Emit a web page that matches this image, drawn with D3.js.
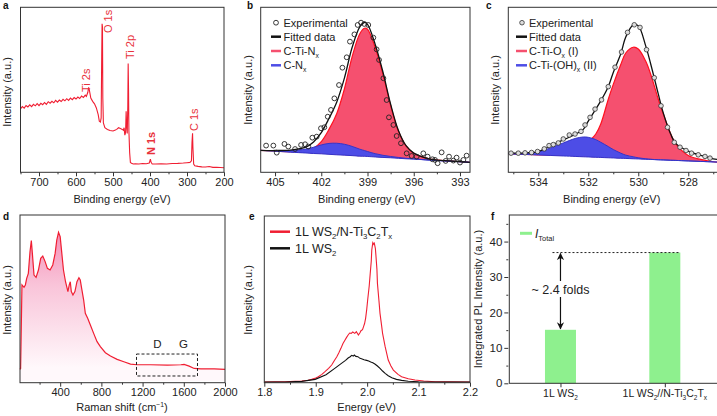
<!DOCTYPE html>
<html><head><meta charset="utf-8">
<script src="https://cdn.jsdelivr.net/npm/d3@7"></script>
<style>
body{margin:0;background:#fff}
svg{display:block;font-family:"Liberation Sans",Arial,sans-serif}
</style></head><body>
<svg id="chart" width="717" height="416"></svg>
<script>
// ---------- Panel a: XPS survey ----------
const surveyE = [750,745,740,735,730,725,720,715,710,705,700,695,690,685,680,675,670,665,660,655,650,645,640,635,630,625,620,615,610,605,600,595,590,585,580,575,572,568,566,564,560,555,550,545,540,537,534,532,530.5,529.5,528.5,527.5,526,522,515,508,500,495,490,485,480,475,472,470,468,466,464.5,463,461.5,460,459,458,457,455,453,450,445,440,430,420,410,402,399,397,394,385,370,355,340,325,310,300,292,288,286.5,285,284,282,279,270,260,250,240,230,220,210,200];
const surveyI = [38.5,39.8,38.9,40.5,39.6,40.9,39.8,41.2,40.3,41.6,40.4,41.8,41.0,42.3,41.2,42.8,41.9,43.0,42.1,43.6,42.5,43.8,42.9,44.2,43.3,44.6,43.6,45.0,44.0,45.3,44.4,45.6,44.7,46.2,45.4,46.8,46.0,48.5,51.5,50.0,45.0,43.0,41.5,39.0,35.0,31.0,30.5,33.0,70,90.0,88,45,30.0,27.0,26.0,25.3,25.0,25.5,26.0,27.0,26.5,26.0,25.5,27,22.5,24,37.0,28,23.5,40,66.0,50,25.0,12.0,6.0,5.5,5.0,5.2,5.0,5.3,5.2,5.6,8.0,6.0,5.0,5.0,5.2,5.0,5.3,5.4,5.6,5.8,6.0,7.0,18,23.6,15,5.0,4.0,3.6,3.3,3.2,3.5,3.0,3.0,2.9,2.8];
const surveyTicks = [700,600,500,400,300,200];
const surveyMinor = [750,650,550,450,350,250];
const surveyPeaks = ["Ti 2s","O 1s","Ti 2p","N 1s","C 1s"];

// ---------- Panel b: N 1s ----------
const bExpE = [405.58,405.11,404.89,404.39,404.14,403.70,403.31,403.05,402.84,402.58,402.30,402.02,401.80,401.58,401.37,401.15,400.85,400.63,400.35,400.14,399.85,399.64,399.42,399.21,398.95,398.62,398.41,398.25,397.97,397.76,397.61,397.32,397.11,396.83,396.46,396.14,395.81,395.38,395.10,394.79,394.62,394.45,394.19,393.93,393.71,393.43,393.22,393.00,392.78,392.57];
const bExpI = [16.2,16.2,11.9,17.2,15.6,14.1,16.6,17.0,15.6,21.0,21.6,26.7,27.3,33.7,37.8,44.8,52.9,63.4,69.7,79.2,83.6,89.3,90.7,89.9,89.3,81.6,74.5,68.1,57.0,43.8,33.3,28.7,22.0,17.6,11.5,9.9,9.5,11.5,9.5,7.9,7.5,5.5,12.1,6.9,9.5,7.1,8.9,5.9,7.5,10.1];
const bE    = [406,405,404,403,402.5,402,401.5,401,400.5,400,399.5,399.2,399,398.5,398,397.5,397,396.5,396,395,394,393,392.3];
const bBase = [13.3,12.8,12.2,11.7,11.4,11.2,10.9,10.6,10.4,10.1,9.8,9.7,9.6,9.3,9.0,8.8,8.5,8.2,8.0,7.4,6.9,6.4,6.0];
const bCN   = [13.3,13.1,13.2,14.1,15.2,16.6,17.5,17.6,17.0,15.7,14.0,13.2,12.6,11.3,10.3,9.6,9.0,8.5,8.15,7.4,6.9,6.4,6.0];
const bCTiN = [13.3,12.9,12.5,12.9,14.6,18.6,26.0,35.5,50.5,70.0,84.0,87.3,86.7,75.5,59.5,40.5,25.0,16.0,11.5,8.2,7.1,6.5,6.0];
const bFit  = [13.3,13.2,13.5,15.3,18.4,24.0,32.6,42.5,57.1,75.6,88.2,90.8,89.7,77.5,60.8,41.3,25.5,16.1,11.65,8.2,7.1,6.5,6.0];
const bTicks = [405,402,399,396,393];
const bMinor = [403.5,400.5,397.5,394.5];

// ---------- Panel c: O 1s ----------
const cExpE = [535.09,534.80,534.53,534.27,534.03,533.76,533.57,533.40,533.20,533.00,532.76,532.53,532.29,532.13,531.93,531.73,531.47,531.20,530.93,530.67,530.43,530.16,529.93,529.67,529.36,529.09,528.83,528.56,528.33,528.09,527.87,527.60,527.33,527.13];
const cExpI = [11.6,11.6,11.8,12.0,12.6,14.2,16.2,16.8,17.8,20.2,22.6,23.2,24.8,28.7,33.3,38.3,43.9,51.9,63.7,72.9,84.8,89.4,87.8,74.3,57.3,40.3,27.3,18.2,15.2,13.2,11.6,10.6,9.6,8.6];
const cE    = [535.2,535,534.5,534,533.5,533,532.5,532.2,532,531.7,531.5,531.2,531,530.7,530.5,530.2,530,529.7,529.5,529.2,529,528.7,528.5,528,527.5,527,526.85];
const cBase = [11.3,11.1,10.8,10.5,10.2,9.9,9.6,9.4,9.3,9.1,9.0,8.8,8.7,8.5,8.4,8.2,8.1,7.9,7.8,7.6,7.5,7.3,7.2,6.9,6.6,6.3,6.2];
const cOH   = [11.3,11.2,11.2,12.4,14.8,17.8,20.6,21.4,21.2,19.8,18.2,15.6,13.8,11.6,10.4,9.4,8.8,8.2,7.9,7.6,7.5,7.3,7.2,6.9,6.6,6.3,6.2];
const cOx   = [11.3,11.1,10.8,10.6,10.6,11.0,12.6,14.6,18.2,23.2,29.3,44.3,53.3,65.3,72.3,75.8,74.7,67.3,59.3,44.3,35.3,23.2,17.2,10.2,7.8,6.4,6.2];
const cFit  = [11.6,11.6,11.8,12.6,16.0,19.6,23.2,26.0,31.0,38.3,43.3,51.9,60.5,71.8,82.0,89.4,88.8,76.5,65.5,47.5,36.0,23.0,17.5,12.8,10.2,8.2,7.8];
const cTicks = [534,532,530,528];
const cMinor = [535,533,531,529,527];

// ---------- Panel d: Raman ----------
const ramanX = [10,16,29,49,62,75,91,107,120,130,146,166,189,211,231,254,276,302,328,351,367,384,400,416,432,452,475,488,498,508,524,543,563,582,595,611,628,644,667,693,725,758,790,839,888,953,1018,1083,1148,1278,1441,1571,1603,1652,1701,1766,1896,2000];
const ramanI = [8.0,8.5,58.3,56.9,58.3,62.2,65.2,78.1,84.7,77.1,64.2,62.8,67.2,74.2,75.5,72.2,68.2,67.2,70.2,77.1,85.1,89.7,87.1,77.1,67.2,60.2,54.3,58.3,60.2,54.3,52.3,54.3,60.2,62.6,61.2,55.3,49.3,41.4,38.4,34.4,29.4,24.5,21.5,17.9,15.9,13.9,12.5,11.1,10.7,10.7,10.5,10.7,10.9,9.9,8.5,8.2,8.2,8.0];
const ramanTicks = [400,800,1200,1600,2000];
const ramanMinor = [200,600,1000,1400,1800];
const ramanBox = [1141,1733,4.0,17.1];
const ramanBands = ["D","G"];
const ramanBandX = [1343,1597];

// ---------- Panel e: PL spectra ----------
const eRedX = [1.800,1.820,1.840,1.860,1.873,1.885,1.892,1.900,1.905,1.912,1.918,1.925,1.931,1.936,1.941,1.945,1.949,1.953,1.957,1.960,1.963,1.966,1.969,1.972,1.976,1.979,1.983,1.986,1.988,1.991,1.993,1.995,1.997,1.999,2.001,2.004,2.006,2.008,2.009,2.011,2.013,2.014,2.016,2.017,2.019,2.020,2.023,2.025,2.028,2.030,2.035,2.041,2.046,2.051,2.060,2.067,2.080,2.093,2.110,2.132,2.160,2.200];
const eRedI = [0.4,0.6,0.6,0.8,1.0,1.5,2.0,2.8,3.6,5.0,6.6,8.6,10.6,13.2,15.6,18.0,20.6,23.5,25.6,27.2,28.6,29.8,29.6,30.4,29.6,30.6,28.6,30.0,31.2,31.8,33.6,35.5,38.6,43.5,49.6,58.0,65.6,73.0,79.6,84.0,83.0,83.6,80.5,76.6,68.0,59.6,49.0,41.6,34.5,29.6,21.6,13.6,10.2,7.6,5.0,3.6,2.4,1.6,1.0,0.6,0.5,0.4];
const eBlkX = [1.800,1.840,1.873,1.899,1.920,1.937,1.950,1.958,1.963,1.967,1.970,1.973,1.975,1.978,1.982,1.986,1.989,1.994,1.999,2.003,2.007,2.011,2.015,2.020,2.025,2.030,2.035,2.041,2.048,2.057,2.067,2.080,2.100,2.150,2.200];
const eBlkI = [0.4,0.4,0.8,2.0,4.8,8.6,11.6,13.4,14.8,15.6,16.4,16.0,16.6,15.8,15.6,14.6,14.4,13.8,13.4,13.0,12.4,12.0,11.2,10.0,8.6,7.0,5.6,4.2,3.0,2.0,1.4,0.9,0.6,0.4,0.4];
const eTicks = [1.8,1.9,2.0,2.1,2.2];
const eMinor = [1.85,1.95,2.05,2.15];

// ---------- Panel f: integrated PL ----------
const fCats = ["WS2","WS2/NTi3C2Tx"];
const fVals = [15.1,36.9];
const fTicks = [0,10,20,30,40];
const fMinor = [5,15,25,35,45];
const fFold = "~ 2.4 folds";

// ================= drawing =================
const svg = d3.select("#chart");
const RED = "#f01e32", PINK = "#f5506f", BLUE = "#4d4de6", BLUEL = "#3434c8";
const AX = "#333";
const TICKFS = 11;

function rich(sel, parts, size) {
  let shift = 0;
  parts.forEach(p => {
    const t = p[0], k = p[1] || "n";
    const target = (k === "sub" || k === "isub") ? 3 : (k === "sup" ? -4 : 0);
    const ts = sel.append("tspan").text(t);
    if (target - shift) ts.attr("dy", target - shift);
    shift = target;
    if (k === "sub" || k === "sup" || k === "isub") ts.attr("font-size", size * 0.62);
    if (k === "i") ts.attr("font-style", "italic");
  });
  return sel;
}

function frame(x0, x1, y0, y1) {
  svg.append("rect").attr("x", x0).attr("y", y0).attr("width", x1 - x0).attr("height", y1 - y0)
    .attr("fill", "none").attr("stroke", AX).attr("stroke-width", 1);
}

function xAxis(x, yPix, majors, minors, fmt) {
  const g = svg.append("g").attr("transform", `translate(0,${yPix})`);
  g.call(d3.axisBottom(x).tickValues(majors).tickSize(4).tickPadding(2).tickFormat(fmt));
  const lo = Math.min(...x.range()) - 0.5, hi = Math.max(...x.range()) + 0.5;
  const g2 = svg.append("g").attr("transform", `translate(0,${yPix})`);
  g2.call(d3.axisBottom(x).tickValues(minors.filter(v => x(v) >= lo && x(v) <= hi)).tickSize(2).tickFormat(""));
  [g, g2].forEach(s => { s.select(".domain").remove(); s.selectAll("line").attr("stroke", AX);
    s.selectAll("text").attr("font-size", TICKFS).attr("fill", "#222").attr("font-family", "Liberation Sans, Arial, sans-serif"); });
}

function label(x, y, txt, rot) {
  const t = svg.append("text").attr("font-size", 11).attr("fill", "#222").attr("text-anchor", "middle");
  if (rot) t.attr("transform", `translate(${x},${y}) rotate(-90)`);
  else t.attr("x", x).attr("y", y);
  if (typeof txt === "string") t.text(txt); else rich(t, txt, 11);
  return t;
}

function letter(x, y, s) {
  svg.append("text").attr("x", x).attr("y", y).attr("font-size", 10).attr("font-weight", "bold").attr("fill", "#111").text(s);
}

// ----- a -----
(function () {
  const x = d3.scaleLinear().domain([750, 200]).range([20.5, 224]);
  const y = d3.scaleLinear().domain([0, 100]).range([172.3, 7.3]);
  const line = d3.line().x((d, i) => x(surveyE[i])).y(d => y(d));
  svg.append("path").attr("d", line(surveyI)).attr("fill", "none").attr("stroke", RED).attr("stroke-width", 1.1);
  frame(20.5, 224, 7.3, 172.3);
  xAxis(x, 172.3, surveyTicks, surveyMinor, d3.format("d"));
  label(122, 203, "Binding energy (eV)");
  label(11, 92, "Intensity (a.u.)", true);
  letter(3, 9, "a");
  const lx = [90, 112, 134, 154.5, 198];
  const ly = [92, 33, 59, 155, 131];
  surveyPeaks.forEach((p, i) => {
    svg.append("text").attr("transform", `translate(${lx[i]},${ly[i]}) rotate(-90)`)
      .attr("font-size", 11).attr("fill", "#e8323c").attr("font-weight", p === "N 1s" ? "bold" : "normal").text(p);
  });
})();

// ----- b -----
(function () {
  const x0 = 260.7, x1 = 470, y0 = 7.3, y1 = 172.3;
  const x = d3.scaleLinear().domain([405.93, 392.35]).range([x0, x1]);
  const y = d3.scaleLinear().domain([0, 100]).range([y1, y0]);
  svg.append("clipPath").attr("id", "clipb").append("rect").attr("x", x0).attr("y", y0).attr("width", x1 - x0).attr("height", y1 - y0);
  const g = svg.append("g").attr("clip-path", "url(#clipb)");
  const area = arr => d3.area().curve(d3.curveCatmullRom).x((d, i) => x(bE[i])).y0((d, i) => y(bBase[i])).y1(d => y(d))(arr);
  const ln = arr => d3.line().curve(d3.curveCatmullRom).x((d, i) => x(bE[i])).y(d => y(d))(arr);
  g.append("path").attr("d", area(bCTiN)).attr("fill", PINK);
  g.append("path").attr("d", ln(bCTiN)).attr("fill", "none").attr("stroke", "#ff1020").attr("stroke-width", 1.2);
  g.append("path").attr("d", area(bCN)).attr("fill", BLUE);
  g.append("path").attr("d", ln(bCN)).attr("fill", "none").attr("stroke", BLUEL).attr("stroke-width", 1);
  g.append("path").attr("d", ln(bBase)).attr("fill", "none").attr("stroke", BLUEL).attr("stroke-width", 1);
  g.append("path").attr("d", ln(bFit)).attr("fill", "none").attr("stroke", "#111").attr("stroke-width", 1.3);
  g.selectAll("circle.e").data(bExpI).enter().append("circle").attr("cx", (d, i) => x(bExpE[i])).attr("cy", d => y(d))
    .attr("r", 2.4).attr("fill", "none").attr("stroke", "#222").attr("stroke-width", 0.9);
  frame(x0, x1, y0, y1);
  xAxis(x, y1, bTicks, bMinor, d3.format("d"));
  label(366.7, 203, "Binding energy (eV)");
  label(252, 90, "Intensity (a.u.)", true);
  letter(247, 9, "b");
  svg.append("circle").attr("cx", 276).attr("cy", 22.7).attr("r", 2.4).attr("fill", "none").attr("stroke", "#222").attr("stroke-width", 0.9);
  const leg = [["#111", [["Fitted data"]]], ["#f5506f", [["C-Ti-N"], ["x", "sub"]]], [BLUE, [["C-N"], ["x", "sub"]]]];
  svg.append("text").attr("x", 283.5).attr("y", 26.5).attr("font-size", 11).attr("fill", "#222").text("Experimental");
  leg.forEach((l, i) => {
    const yy = 36.7 + i * 14.3;
    svg.append("line").attr("x1", 271).attr("x2", 281).attr("y1", yy).attr("y2", yy).attr("stroke", l[0]).attr("stroke-width", 2.5);
    rich(svg.append("text").attr("x", 283.5).attr("y", yy + 3.8).attr("font-size", 11).attr("fill", "#222"), l[1], 11);
  });
})();

// ----- c -----
(function () {
  const x0 = 508.3, x1 = 717, y0 = 7.3, y1 = 172.3;
  const x = d3.scaleLinear().domain([535.2, 526.85]).range([x0, x1]);
  const y = d3.scaleLinear().domain([0, 100]).range([y1, y0]);
  svg.append("clipPath").attr("id", "clipc").append("rect").attr("x", x0).attr("y", y0).attr("width", x1 - x0).attr("height", y1 - y0);
  const g = svg.append("g").attr("clip-path", "url(#clipc)");
  const area = arr => d3.area().curve(d3.curveCatmullRom).x((d, i) => x(cE[i])).y0((d, i) => y(cBase[i])).y1(d => y(d))(arr);
  const ln = arr => d3.line().curve(d3.curveCatmullRom).x((d, i) => x(cE[i])).y(d => y(d))(arr);
  g.append("path").attr("d", area(cOx)).attr("fill", PINK);
  g.append("path").attr("d", ln(cOx)).attr("fill", "none").attr("stroke", "#ff1020").attr("stroke-width", 1.2);
  g.append("path").attr("d", area(cOH)).attr("fill", BLUE);
  g.append("path").attr("d", ln(cOH)).attr("fill", "none").attr("stroke", BLUEL).attr("stroke-width", 1);
  g.append("path").attr("d", ln(cBase)).attr("fill", "none").attr("stroke", BLUEL).attr("stroke-width", 1);
  g.append("path").attr("d", ln(cFit)).attr("fill", "none").attr("stroke", "#111").attr("stroke-width", 1.3);
  g.selectAll("circle.e").data(cExpI).enter().append("circle").attr("cx", (d, i) => x(cExpE[i])).attr("cy", d => y(d))
    .attr("r", 2.3).attr("fill", "#ddd").attr("stroke", "#333").attr("stroke-width", 0.8);
  frame(x0, x1 + 2, y0, y1);
  xAxis(x, y1, cTicks, cMinor, d3.format("d"));
  label(611.7, 203, "Binding energy (eV)");
  label(499, 90, "Intensity (a.u.)", true);
  letter(486, 9, "c");
  svg.append("circle").attr("cx", 522).attr("cy", 22.7).attr("r", 2.3).attr("fill", "#ddd").attr("stroke", "#333").attr("stroke-width", 0.8);
  svg.append("text").attr("x", 529).attr("y", 26.5).attr("font-size", 11).attr("fill", "#222").text("Experimental");
  const leg = [["#111", [["Fitted data"]]], ["#f5506f", [["C-Ti-O"], ["x", "sub"], [" (I)"]]], [BLUE, [["C-Ti-(OH)"], ["x", "sub"], [" (II)"]]]];
  leg.forEach((l, i) => {
    const yy = 36.7 + i * 14.3;
    svg.append("line").attr("x1", 516).attr("x2", 527).attr("y1", yy).attr("y2", yy).attr("stroke", l[0]).attr("stroke-width", 2.5);
    rich(svg.append("text").attr("x", 529).attr("y", yy + 3.8).attr("font-size", 11).attr("fill", "#222"), l[1], 11);
  });
})();

// ----- d -----
(function () {
  const x0 = 20, x1 = 225, y0 = 215, y1 = 382.7;
  const x = d3.scaleLinear().domain([10, 2000]).range([x0, x1]);
  const y = d3.scaleLinear().domain([0, 100]).range([y1, y0]);
  const grad = svg.append("defs").append("linearGradient").attr("id", "gradd").attr("gradientUnits", "userSpaceOnUse")
    .attr("x1", 0).attr("x2", 0).attr("y1", y0 + 15).attr("y2", y1 - 15);
  grad.append("stop").attr("offset", "0%").attr("stop-color", "#f48db5");
  grad.append("stop").attr("offset", "40%").attr("stop-color", "#f9c4d9");
  grad.append("stop").attr("offset", "100%").attr("stop-color", "#fff8fb");
  const area = d3.area().x((d, i) => x(ramanX[i])).y0(y(0) - 2).y1(d => y(d));
  svg.append("path").attr("d", area(ramanI)).attr("fill", "url(#gradd)");
  const line = d3.line().x((d, i) => x(ramanX[i])).y(d => y(d));
  svg.append("path").attr("d", line(ramanI)).attr("fill", "none").attr("stroke", RED).attr("stroke-width", 1.2);
  svg.append("rect").attr("x", x(ramanBox[0])).attr("y", y(ramanBox[3])).attr("width", x(ramanBox[1]) - x(ramanBox[0]))
    .attr("height", y(ramanBox[2]) - y(ramanBox[3])).attr("fill", "none").attr("stroke", "#222").attr("stroke-width", 1).attr("stroke-dasharray", "3,2");
  ramanBands.forEach((b, i) => svg.append("text").attr("x", x(ramanBandX[i])).attr("y", 348).attr("text-anchor", "middle").attr("font-size", 11.5).attr("fill", "#222").text(b));
  frame(x0, x1, y0, y1);
  xAxis(x, y1, ramanTicks, ramanMinor, d3.format("d"));
  label(122, 411, [["Raman shift (cm"], ["−1", "sup"], [")"]]);
  label(11, 300, "Intensity (a.u.)", true);
  letter(3, 220, "d");
})();

// ----- e -----
(function () {
  const x0 = 264.3, x1 = 470, y0 = 216, y1 = 382.7;
  const x = d3.scaleLinear().domain([1.8, 2.2]).range([x0, x1]);
  const y = d3.scaleLinear().domain([0, 100]).range([y1, y0]);
  const lr = d3.line().x((d, i) => x(eRedX[i])).y(d => y(d));
  const lb = d3.line().x((d, i) => x(eBlkX[i])).y(d => y(d));
  svg.append("path").attr("d", lr(eRedI)).attr("fill", "none").attr("stroke", RED).attr("stroke-width", 1.1);
  svg.append("path").attr("d", lb(eBlkI)).attr("fill", "none").attr("stroke", "#111").attr("stroke-width", 1.1);
  frame(x0, x1, y0, y1);
  xAxis(x, y1, eTicks, eMinor, d3.format(".1f"));
  label(366.7, 411, "Energy (eV)");
  label(252, 300, "Intensity (a.u.)", true);
  letter(249, 220, "e");
  const leg = [[RED, [["1L WS"], ["2", "sub"], ["/N-Ti"], ["3", "sub"], ["C"], ["2", "sub"], ["T"], ["x", "sub"]]], ["#111", [["1L WS"], ["2", "sub"]]]];
  leg.forEach((l, i) => {
    const yy = 231.7 + i * 16.6;
    svg.append("line").attr("x1", 270).attr("x2", 290).attr("y1", yy).attr("y2", yy).attr("stroke", l[0]).attr("stroke-width", 2.5);
    rich(svg.append("text").attr("x", 295).attr("y", yy + 4.3).attr("font-size", 12.5).attr("fill", "#222"), l[1], 12.5);
  });
})();

// ----- f -----
(function () {
  const x0 = 508.3, x1 = 717, y0 = 215, y1 = 383.3;
  const x = d3.scalePoint().domain(fCats).range([x0, x1]).padding(0.5);
  const y = d3.scaleLinear().domain([0, 47.5]).range([y1, y0]);
  const bw = 31;
  svg.selectAll("rect.bar").data(fVals).enter().append("rect").attr("class", "bar")
    .attr("x", (d, i) => x(fCats[i]) - bw / 2).attr("width", bw).attr("y", d => y(d)).attr("height", d => y1 - y(d)).attr("fill", "#8ef08e");
  svg.append("line").attr("x1", x(fCats[0]) - 8).attr("x2", x(fCats[1]) + bw / 2).attr("y1", y(fVals[1])).attr("y2", y(fVals[1]))
    .attr("stroke", "#222").attr("stroke-width", 1).attr("stroke-dasharray", "2,2");
  svg.append("rect").attr("x", x0 + 1).attr("y", y0).attr("width", x1 - x0 + 2).attr("height", y1 - y0).attr("fill", "none").attr("stroke", AX);
  const ax = svg.append("g").attr("transform", `translate(${x0},0)`);
  ax.call(d3.axisLeft(y).tickValues(fTicks).tickSize(4).tickPadding(2).tickFormat(d3.format("d")));
  const ax2 = svg.append("g").attr("transform", `translate(${x0},0)`);
  ax2.call(d3.axisLeft(y).tickValues(fMinor).tickSize(2).tickFormat(""));
  [ax, ax2].forEach(s => { s.select(".domain").remove(); s.selectAll("line").attr("stroke", AX);
    s.selectAll("text").attr("font-size", 11.5).attr("fill", "#222").attr("font-family", "Liberation Sans, Arial, sans-serif"); });
  const axb = svg.append("g").attr("transform", `translate(0,${y1})`);
  axb.call(d3.axisBottom(x).tickSize(4).tickFormat(""));
  axb.select(".domain").remove(); axb.selectAll("line").attr("stroke", AX);
  const catLabels = [[["1L WS"], ["2", "sub"]], [["1L WS"], ["2", "sub"], ["//N-Ti"], ["3", "sub"], ["C"], ["2", "sub"], ["T"], ["x", "sub"]]];
  catLabels.forEach((c, i) => rich(svg.append("text").attr("x", x(fCats[i])).attr("y", 397).attr("text-anchor", "middle").attr("font-size", 10.5).attr("fill", "#222"), c, 10.5));
  const ax0 = x(fCats[0]);
  const defs = svg.append("defs");
  defs.append("marker").attr("id", "ah").attr("viewBox", "0 0 10 10").attr("refX", 9).attr("refY", 5).attr("markerWidth", 6).attr("markerHeight", 7)
    .attr("orient", "auto-start-reverse").append("path").attr("d", "M0,0 L10,5 L0,10 L3,5 Z").attr("fill", "#111");
  svg.append("line").attr("x1", ax0).attr("x2", ax0).attr("y1", y(fVals[1]) + 1).attr("y2", y(fVals[0]) - 1)
    .attr("stroke", "#111").attr("stroke-width", 1.2).attr("marker-start", "url(#ah)").attr("marker-end", "url(#ah)");
  svg.append("rect").attr("x", ax0 - 31).attr("y", 281).attr("width", 62).attr("height", 16).attr("fill", "#fff");
  svg.append("text").attr("x", ax0).attr("y", 294).attr("text-anchor", "middle").attr("font-size", 12.5).attr("fill", "#222").text(fFold);
  label(482, 299, "Integrated PL Intensity (a.u.)", true);
  letter(491, 220, "f");
  svg.append("line").attr("x1", 520).attr("x2", 532).attr("y1", 233.3).attr("y2", 233.3).attr("stroke", "#8ef08e").attr("stroke-width", 3);
  rich(svg.append("text").attr("x", 535).attr("y", 237.8).attr("font-size", 12).attr("fill", "#222"), [["I", "i"], ["Total", "sub"]], 12);
})();
</script>
</body></html>
